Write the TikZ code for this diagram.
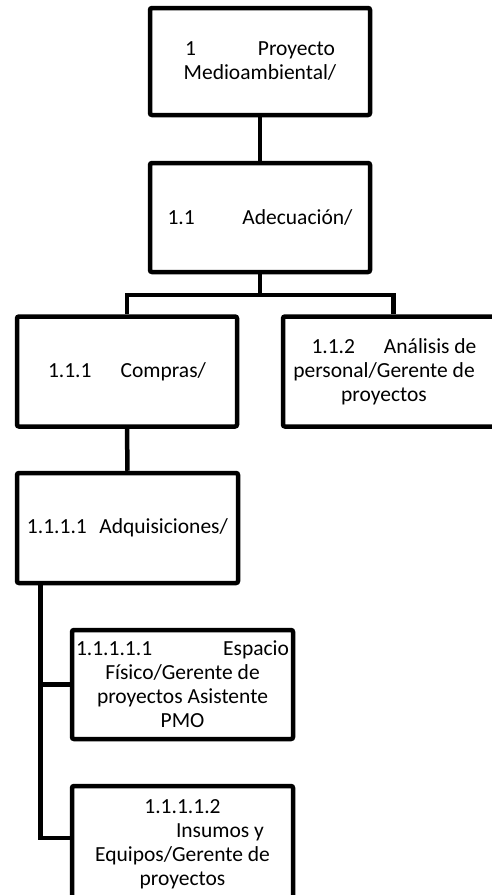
\documentclass[tikz,border=0pt]{standalone}
\usepackage{fontspec}
\setmainfont{Carlito}
\begin{document}
\begin{tikzpicture}[x=1pt,y=-1pt,
  wbsfont/.style={font=\fontsize{21.5}{24}\selectfont},
  wbsbox/.style={draw=black, line width=4.5pt, rounded corners=2pt, inner sep=0pt,
    align=center, minimum width=221pt, minimum height=109pt, wbsfont},
  wbstext/.style={inner sep=0pt, align=center, wbsfont},
  link/.style={draw=black, line width=4.5pt}]
% page frame; the right box and the last box run past its edges
\useasboundingbox (0,0) rectangle (492,895);
\clip (0,0) rectangle (492,895);

% level 1 and 2
\node[wbsbox, minimum width=220pt, minimum height=107pt] (n1) at (260,61.5)
  {\makebox[150pt]{1\hfill Proyecto}\\Medioambiental/};
\node[wbsbox, minimum width=220pt] (n11) at (260,217.5)
  {\makebox[185pt]{1.1\hfill Adecuación/}};

% level 3
\node[wbsbox, minimum width=220pt, minimum height=110pt] (n111) at (127,371.5)
  {\makebox[158pt]{1.1.1\hfill Compras/}};
\node[wbsbox, minimum height=110pt] (n112) at (393.5,371.5) {};
\node[wbstext] (t112) at (384,372)
  {\hspace*{20pt}\makebox[165pt]{1.1.2\hfill Análisis de}\\
   personal/Gerente de\\proyectos};

% level 4
\node[wbsbox, minimum height=110pt] (n1111) at (127.5,528)
  {\makebox[201pt]{1.1.1.1\hfill Adquisiciones/}};

% level 5
\node[wbsbox] (n11111) at (182.5,684.5)
  {\makebox[213pt]{1.1.1.1.1\hfill Espacio}\\
   Físico/Gerente de\\proyectos Asistente\\PMO};
\node[wbsbox, minimum height=117pt] (n11112) at (182.5,844.5)
  {1.1.1.1.2\\\hspace*{75pt}Insumos y\\Equipos/Gerente de\\proyectos};

% connectors
\coordinate (bar) at (260,295);
\coordinate (trunk) at (40.5,583);
\coordinate (in2) at (72,838);
\draw[link] (n1.south) -- (n11.north);
\draw[link] (n11.south) -- (bar);
\draw[link] (n111.north) |- (bar) -| (n112.north);
\draw[link] (n111.south) -- (n1111.north);
\draw[link] (trunk) |- (n11111.west);
\draw[link] (trunk) |- (in2);
\end{tikzpicture}
\end{document}
